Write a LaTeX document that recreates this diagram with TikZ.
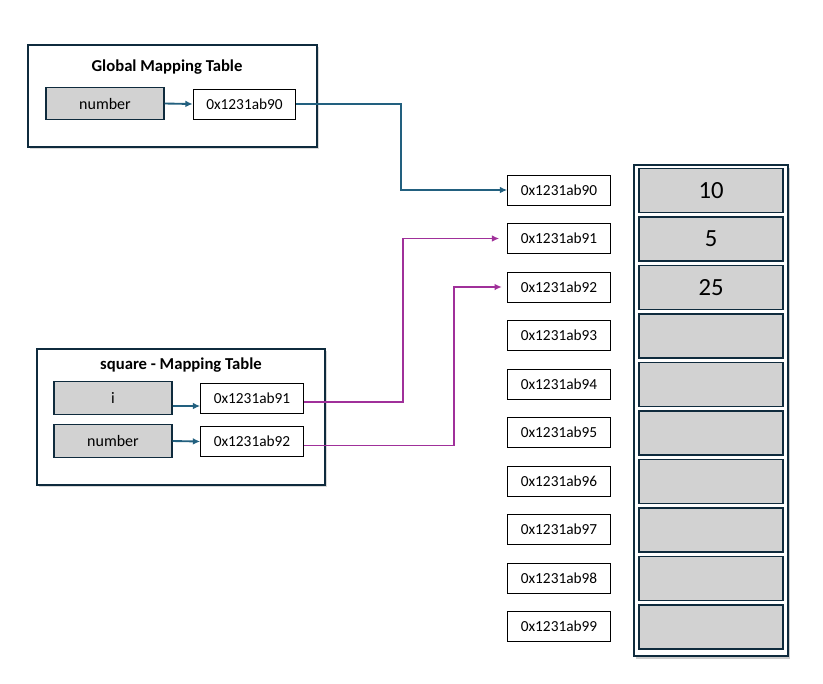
\documentclass[tikz,border=0pt]{standalone}
\usepackage{fontspec}
\setmainfont{Carlito}
\usetikzlibrary{arrows.meta,positioning,shadows,fit}
\definecolor{boxline}{HTML}{0F2B3D}
\definecolor{cellgray}{HTML}{D2D2D2}
\definecolor{linkblue}{HTML}{22607F}
\definecolor{linkpurple}{HTML}{A0309A}
\tikzset{
    tablebox/.style={draw=boxline, line width=0.8pt, fill=white,
        drop shadow={opacity=0.3, shadow xshift=1.5pt, shadow yshift=-1.5pt}},
    namebox/.style={draw=boxline, line width=0.8pt, fill=cellgray,
        minimum width=88.5pt, minimum height=24.5pt,
        font=\fontsize{12}{14}\selectfont},
    addrbox/.style={draw=black, line width=0.7pt, fill=white,
        minimum width=77pt, minimum height=22.5pt,
        font=\fontsize{11.5}{13}\selectfont},
    cellbox/.style={draw=boxline, line width=0.9pt, fill=cellgray,
        minimum width=108pt, minimum height=33pt,
        font=\fontsize{18.5}{20}\selectfont},
    titletext/.style={font=\fontsize{12.5}{14}\selectfont\bfseries},
    bluelink/.style={linkblue, line width=1.4pt, -{Latex[length=5.5pt,width=5pt]}},
    purplelink/.style={linkpurple, line width=1.4pt, -{Latex[length=5.5pt,width=5pt]}}
}
\begin{document}
\begin{tikzpicture}[x=0.75pt,y=-0.75pt]
    \useasboundingbox (0,0) rectangle (823,683);
    % Global Mapping Table
    \node[tablebox, minimum width=216.75pt, minimum height=76.5pt] (global) at (172.5,96) {};
    \node[titletext] (gtitle) at (167,67) {Global Mapping Table};
    \node[namebox] (gnum) at (105,103.5) {number};
    \node[addrbox] (gaddr) at (244.5,104) {0x1231ab90};
    \draw[bluelink] (gnum.east) -- (gaddr.west);
    % square - Mapping Table
    \node[tablebox, minimum width=216pt, minimum height=102pt] (square) at (181,417) {};
    \node[titletext] (stitle) at (181,365) {square - Mapping Table};
    \node[namebox] (si) at (113,398) {i};
    \node[addrbox] (saddri) at (252,398) {0x1231ab91};
    \node[namebox] (snum) at (113,441) {number};
    \node[addrbox] (saddrn) at (252,441.5) {0x1231ab92};
    \draw[bluelink] ([yshift=-6pt]si.east) -- ([yshift=-6pt]saddri.west);
    \draw[bluelink] (snum.east) -- (saddrn.west);
    % addresses
    \foreach \i in {0,...,9} {
        \node[addrbox] (addr\i) at (559,{190+48.5*\i}) {0x1231ab9\i};
    }
    % memory
    \coordinate (memtop) at (634,165);
    \coordinate (membot) at (788,656);
    \node[draw=boxline, line width=1.1pt, fill=white, fit=(memtop)(membot), inner sep=0pt,
        drop shadow={opacity=0.4, shadow xshift=1.5pt, shadow yshift=-2pt}] (memory) {};
    \foreach \i/\val in {0/10,1/5,2/25,3/,4/,5/,6/,7/,8/,9/} {
        \node[cellbox] (cell\i) at (711,{190.5+48.5*\i}) {\val};
    }
    % links
    \draw[bluelink] (gaddr.east) -- ++(105,0) |- (addr0.west);
    \draw[purplelink] ([yshift=-3pt]saddri.east) -- ++(99,0) |- ([xshift=-6pt]addr1.west);
    \draw[purplelink] ([yshift=-3pt]saddrn.east) -- ++(150,0) |- ([xshift=-4pt]addr2.west);
\end{tikzpicture}
\end{document}
